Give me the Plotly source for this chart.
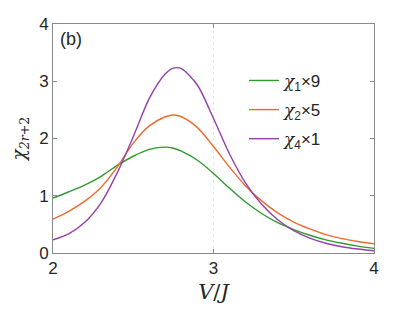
import plotly.graph_objects as go

v_over_j = [2.0, 2.1, 2.2, 2.3, 2.4, 2.5, 2.6, 2.7, 2.75, 2.8, 2.9, 3.0,
            3.1, 3.2, 3.3, 3.4, 3.5, 3.6, 3.7, 3.8, 3.9, 4.0]
chi1_x9 = [0.96, 1.07, 1.19, 1.34, 1.53, 1.69, 1.81, 1.85, 1.83, 1.78, 1.62, 1.39,
           1.13, 0.89, 0.69, 0.53, 0.41, 0.31, 0.23, 0.17, 0.12, 0.08]
chi2_x5 = [0.59, 0.73, 0.91, 1.15, 1.50, 1.92, 2.22, 2.38, 2.41, 2.38, 2.19, 1.86,
           1.50, 1.17, 0.91, 0.70, 0.54, 0.42, 0.32, 0.25, 0.20, 0.16]
chi4_x1 = [0.23, 0.34, 0.54, 0.88, 1.40, 2.03, 2.70, 3.13, 3.23, 3.22, 2.93, 2.35,
           1.73, 1.22, 0.85, 0.58, 0.39, 0.26, 0.17, 0.11, 0.07, 0.04]

x_ticks = [2, 3, 4]
y_ticks = [0, 1, 2, 3, 4]

chi = '<span style="font-family:\'DejaVu Serif\', serif"><i>χ</i></span>'
series = [
    (chi + "<sub>1</sub>×9", chi1_x9, "#2e9a2e"),
    (chi + "<sub>2</sub>×5", chi2_x5, "#f06a30"),
    (chi + "<sub>4</sub>×1", chi4_x1, "#9440aa"),
]

fig = go.Figure()
for i, (name, vals, color) in enumerate(series):
    fig.add_trace(go.Scatter(x=v_over_j, y=vals, mode="lines", name=name,
                             legendgroup=f"g{i}",
                             line=dict(color=color, width=1.4, shape="spline", smoothing=0.8)))

axis_common = dict(showline=True, linecolor="#8a8a8a", linewidth=1, mirror="ticks",
                   ticks="inside", ticklen=4, tickcolor="#8a8a8a", zeroline=False,
                   automargin=False,
                   tickfont=dict(family="Liberation Sans, Arial, sans-serif", size=17, color="#262626"))

fig.update_layout(
    width=416, height=311,
    margin=dict(l=45, r=50, t=16, b=66),
    paper_bgcolor="white", plot_bgcolor="white",
    showlegend=True,
    legend=dict(x=0.595, y=0.83, xanchor="left", yanchor="top",
                bgcolor="rgba(0,0,0,0)",
                font=dict(family="Liberation Sans, Arial, sans-serif", size=17, color="#262626"),
                tracegroupgap=4),
    xaxis=dict(range=[2, 4], tickvals=x_ticks, showgrid=True, gridcolor="#e6e6e6",
               griddash="dot", gridwidth=1,
               title=dict(text="<i>V</i>/<i>J</i>", standoff=6,
                          font=dict(family="DejaVu Serif, serif", size=21, color="#262626")),
               **axis_common),
    yaxis=dict(range=[0, 4], tickvals=y_ticks, showgrid=False,
               title=dict(text="<i>χ</i><sub><i>2r</i>+2</sub>", standoff=12,
                          font=dict(family="DejaVu Serif, serif", size=18, color="#262626")),
               **axis_common),
    annotations=[dict(text="(b)", x=0.015, y=0.985, xref="paper", yref="paper",
                      xanchor="left", yanchor="top", showarrow=False,
                      font=dict(family="Liberation Sans, Arial, sans-serif", size=18, color="#262626"))],
)

fig.write_html("out.html")
